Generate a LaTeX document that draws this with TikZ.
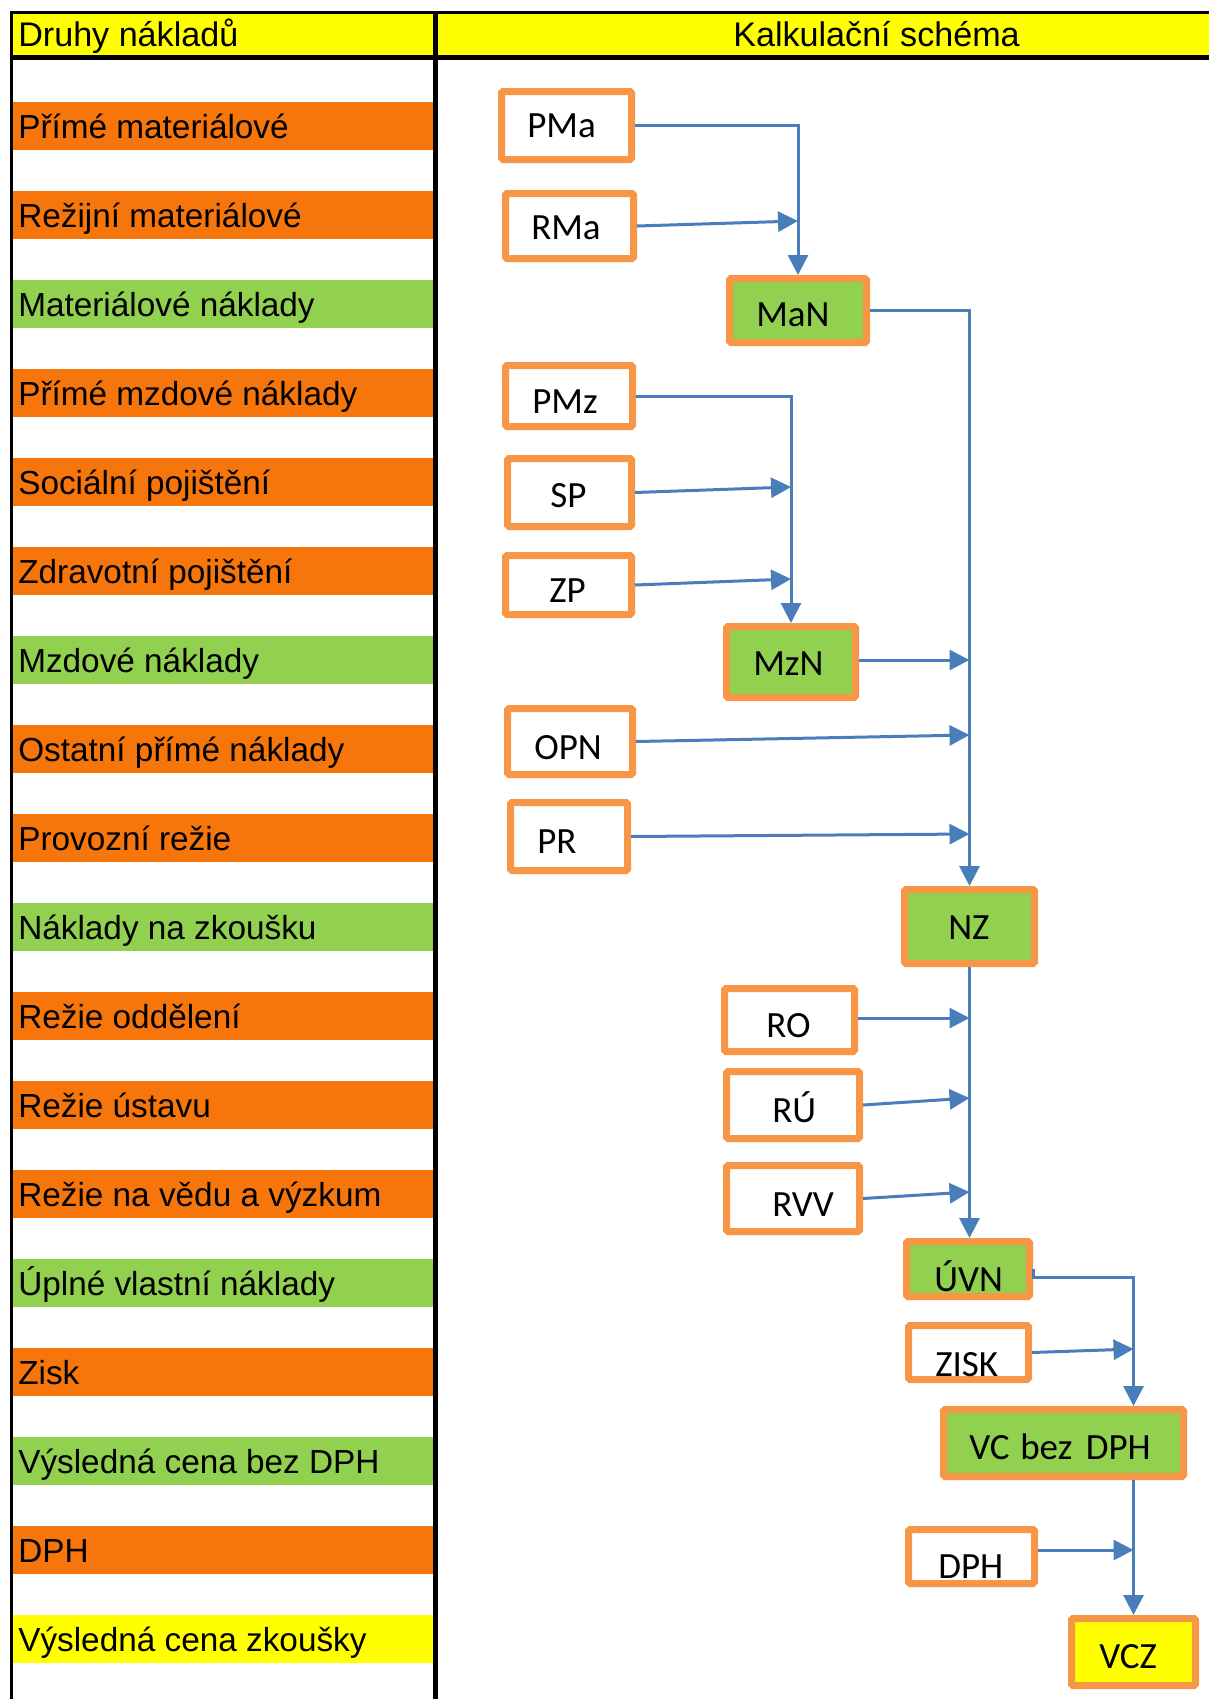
\documentclass[tikz,border=0pt]{standalone}
\usepackage{fontspec}
\setmainfont{Liberation Sans}
\newfontfamily\boxfont{Carlito}
\usetikzlibrary{arrows.meta,fit}
\definecolor{bandorange}{RGB}{247,118,12}
\definecolor{boxorange}{RGB}{247,150,70}
\definecolor{boxgreen}{RGB}{146,208,80}
\definecolor{hdryellow}{RGB}{255,255,0}
\definecolor{linkblue}{RGB}{74,126,187}
\begin{document}
\begin{tikzpicture}[x=0.75pt,y=-0.75pt,
  cell/.style={anchor=base west, inner sep=0pt, font=\fontsize{25}{28}\selectfont},
  hcell/.style={anchor=base west, inner sep=0pt, font=\fontsize{25.6}{28}\selectfont},
  boxw/.style={draw=boxorange, line width=5.25pt, fill=white, inner sep=0pt, rounded corners=1.2pt},
  boxg/.style={boxw, fill=boxgreen},
  boxy/.style={boxw, fill=hdryellow},
  blabel/.style={anchor=base west, inner sep=0pt, font=\boxfont\fontsize{27.75}{30}\selectfont},
  conn/.style={draw=linkblue, line width=2.25pt, -{Triangle[length=15pt,width=15pt]}},
]
\useasboundingbox (0,0) rectangle (1209,1699);
\fill[white] (0,0) rectangle (1209,1699);

% header
\fill[hdryellow] (13,14) rectangle (1209,55);
\node[hcell] (h1) at (18,46) {Druhy nákladů};
\node[hcell] (h2) at (733,46) {Kalkulační schéma};

% left column bands
\foreach \i/\c/\t in {
  0/bandorange/Přímé materiálové,
  1/bandorange/Režijní materiálové,
  2/boxgreen/Materiálové náklady,
  3/bandorange/Přímé mzdové náklady,
  4/bandorange/Sociální pojištění,
  5/bandorange/Zdravotní pojištění,
  6/boxgreen/Mzdové náklady,
  7/bandorange/Ostatní přímé náklady,
  8/bandorange/Provozní režie,
  9/boxgreen/Náklady na zkoušku,
  10/bandorange/Režie oddělení,
  11/bandorange/Režie ústavu,
  12/bandorange/Režie na vědu a výzkum,
  13/boxgreen/Úplné vlastní náklady,
  14/bandorange/Zisk,
  15/boxgreen/Výsledná cena bez DPH,
  16/bandorange/DPH,
  17/hdryellow/Výsledná cena zkoušky}{
  \fill[\c] (13,{101.5+89*\i}) rectangle (433,{149.5+89*\i});
  \node[cell] (c\i) at (18,{138+89*\i}) {\t};
}

% frame lines
\draw[line width=2.625pt] (10,12.5) -- (1209,12.5);
\draw[line width=3.75pt] (10,57.5) -- (1209,57.5);
\draw[line width=2.625pt] (11.5,11) -- (11.5,1699);
\draw[line width=4.125pt] (435.5,11) -- (435.5,1699);

% boxes
\node[boxw, fit={(501.5,91.5) (631.5,159.5)}] (PMa) {};
\node[boxw, fit={(505.5,193.5) (633.5,258.5)}] (RMa) {};
\node[boxg, fit={(729.5,278.5) (866.5,342.5)}] (MaN) {};
\node[boxw, fit={(505.5,365.5) (632.5,426.5)}] (PMz) {};
\node[boxw, fit={(507.5,458.5) (631.5,526.5)}] (SP) {};
\node[boxw, fit={(505.5,555.5) (631.5,614.5)}] (ZP) {};
\node[boxg, fit={(726.5,626.5) (855.5,697.5)}] (MzN) {};
\node[boxw, fit={(507.5,708.5) (632.5,774.5)}] (OPN) {};
\node[boxw, fit={(510.5,802.5) (627.5,870.5)}] (PR) {};
\node[boxg, fit={(904.5,889.5) (1034.5,963.5)}] (NZ) {};
\node[boxw, fit={(724.5,988.5) (854.5,1051.5)}] (RO) {};
\node[boxw, fit={(726.5,1071.5) (859.5,1138.5)}] (RU) {};
\node[boxw, fit={(726.5,1165.5) (859.5,1231.5)}] (RVV) {};
\node[boxg, fit={(906.5,1241.5) (1029.5,1296.5)}] (UVN) {};
\node[boxw, fit={(908.5,1325.5) (1028.5,1379.5)}] (ZISK) {};
\node[boxg, fit={(943.5,1409.5) (1183.5,1476.5)}] (VCb) {};
\node[boxw, fit={(908.5,1529.5) (1034.5,1583.5)}] (DPH) {};
\node[boxy, fit={(1071.5,1618.5) (1195.5,1685.5)}] (VCZ) {};

% box labels
\node[blabel] (tPMa) at (527,137) {PMa};
\node[blabel] (tRMa) at (531,239) {RMa};
\node[blabel] (tMaN) at (756,326) {MaN};
\node[blabel] (tPMz) at (532,413) {PMz};
\node[blabel] (tSP) at (550,507) {SP};
\node[blabel] (tZP) at (549,602) {ZP};
\node[blabel] (tMzN) at (753,675) {MzN};
\node[blabel] (tOPN) at (534,759) {OPN};
\node[blabel] (tPR) at (537,853) {PR};
\node[blabel] (tNZ) at (948,939) {NZ};
\node[blabel] (tRO) at (766,1037) {RO};
\node[blabel] (tRU) at (772,1122) {RÚ};
\node[blabel] (tRVV) at (772,1216) {RVV};
\node[blabel] (tUVN) at (934,1291) {ÚVN};
\node[blabel] (tZISK) at (935,1376) {ZISK};
\node[blabel] (tVCb) at (969,1459) {VC\hspace{8pt}bez\hspace{10pt}DPH};
\node[blabel] (tDPH) at (938,1578) {DPH};
\node[blabel] (tVCZ) at (1099,1668) {VCZ};

% junctions
\coordinate (jRMa) at (798,221);
\coordinate (jSP) at (791,487);
\coordinate (jZP) at (791,579);
\coordinate (jMzN) at (969.5,660);
\coordinate (jOPN) at (969.5,735);
\coordinate (jPR) at (969.5,834);
\coordinate (jRO) at (969.5,1018);
\coordinate (jRU) at (969.5,1098);
\coordinate (jRVV) at (969.5,1192);
\coordinate (jUV) at (1133.5,1277);
\coordinate (jZISK) at (1133.5,1349);
\coordinate (jDPH) at (1133.5,1550);

% connectors
\draw[conn] (PMa.east) -| (MaN.north);
\draw[conn] (RMa.east) -- (jRMa);
\draw[conn] (MaN.east) -| (NZ.north);
\draw[conn] (PMz.east) -| (MzN.north);
\draw[conn] (SP.east) -- (jSP);
\draw[conn] (ZP.east) -- (jZP);
\draw[conn] (MzN.east |- jMzN) -- (jMzN);
\draw[conn] (OPN.east) -- (jOPN);
\draw[conn] (PR.east) -- (jPR);
\draw[conn] (NZ.south) -- (NZ.south |- UVN.north);
\draw[conn] (RO.east |- jRO) -- (jRO);
\draw[conn] (RU.east) -- (jRU);
\draw[conn] (RVV.east) -- (jRVV);
\draw[conn] (UVN.east) -- (UVN.east |- jUV) -- (jUV) -- (jUV |- VCb.north);
\draw[conn] (ZISK.east) -- (jZISK);
\draw[conn] (VCZ.north |- VCb.south) -- (VCZ.north);
\draw[conn] (DPH.east |- jDPH) -- (jDPH);
\end{tikzpicture}
\end{document}
